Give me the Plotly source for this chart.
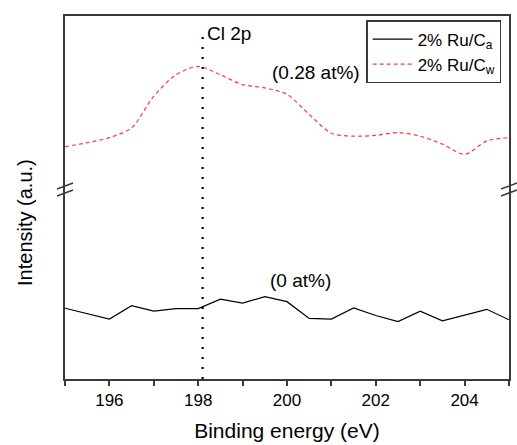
import plotly.graph_objects as go

# Binding energy (eV)
energy = [195.0, 195.5, 196.0, 196.5, 197.0, 197.5, 198.0, 198.5, 199.0, 199.5, 200.0,
          200.5, 201.0, 201.5, 202.0, 202.5, 203.0, 203.5, 204.0, 204.5, 205.0]
# Intensity (a.u.), offset for display
ru_ca = [19.5, 18.0, 16.5, 20.2, 18.7, 19.4, 19.4, 22.0, 20.9, 22.7, 21.3,
         16.7, 16.5, 19.6, 17.5, 15.8, 18.7, 16.0, 17.6, 19.2, 16.3]
ru_cw = [64.0, 65.1, 66.5, 69.2, 77.9, 83.8, 86.1, 83.8, 81.1, 80.2, 78.4,
         72.9, 67.7, 66.9, 67.1, 67.9, 66.9, 64.7, 61.9, 65.6, 66.5]
names = ["2% Ru/C<sub>a</sub>", "2% Ru/C<sub>w</sub>"]
cl2p_energy = 198.1
break_levels = [53.15, 51.23]
y_range = [0, 100]

FONT = "Liberation Sans, Arial, sans-serif"
AX = "#3a3a3a"

fig = go.Figure()
fig.add_trace(go.Scatter(x=energy, y=ru_ca, mode="lines", name=names[0],
                         line=dict(color="black", width=1.2)))
fig.add_trace(go.Scatter(x=energy, y=ru_cw, mode="lines", name=names[1],
                         line=dict(color="#ff3b3b", width=1.2, dash="4px,3px", shape="spline", smoothing=0.8)))

# Cl 2p dotted line
fig.add_shape(type="line", xref="x", yref="paper", x0=cl2p_energy, x1=cl2p_energy, y0=0, y1=0.96,
              line=dict(color="black", width=2.2, dash="2px,8px"), layer="above")

# axis break marks
for xp in [0, 1]:
    for yb in break_levels:
        fig.add_shape(type="line", xref="paper", xsizemode="pixel", xanchor=xp, x0=-8, x1=8,
                      yref="y", ysizemode="pixel", yanchor=yb, y0=-3, y1=3,
                      line=dict(color=AX, width=1.5))

fig.add_annotation(x=cl2p_energy, y=0.953, xref="x", yref="paper", text="Cl 2p", showarrow=False,
                   xanchor="left", yanchor="middle", xshift=2, font=dict(size=19, color="black", family=FONT))
fig.add_annotation(x=200.65, y=84.5, xref="x", yref="y", text="(0.28 at%)", showarrow=False,
                   font=dict(size=19, color="black", family=FONT))
fig.add_annotation(x=200.3, y=27.0, xref="x", yref="y", text="(0 at%)", showarrow=False,
                   font=dict(size=19, color="black", family=FONT))
fig.add_annotation(x=-0.09, y=0.43, xref="paper", yref="paper", text="Intensity (a.u.)", showarrow=False,
                   xanchor="center", yanchor="middle",
                   textangle=-90, font=dict(size=20, color="black", family=FONT))

fig.update_layout(
    width=517, height=445,
    margin=dict(l=65, r=6, t=16, b=64),
    paper_bgcolor="white", plot_bgcolor="white",
    font=dict(family=FONT, color="black"),
    showlegend=True,
    legend=dict(x=0.983, y=0.988, xanchor="right", yanchor="top",
                bordercolor=AX, borderwidth=1.2, bgcolor="white",
                font=dict(size=17, family=FONT), tracegroupgap=0,
                itemwidth=40),
    xaxis=dict(range=[195, 205], tickvals=[196, 198, 200, 202, 204], ticks="outside", ticklen=5,
               tickwidth=1.5, tickcolor=AX,
               minor=dict(dtick=1, tick0=195, ticks="outside", ticklen=5, tickwidth=1.5, tickcolor=AX),
               showline=True, linecolor=AX, linewidth=1.5, mirror=True, showgrid=False, zeroline=False,
               tickfont=dict(size=17, family=FONT, color="black"),
               title=dict(text="Binding energy (eV)", font=dict(size=21, family=FONT, color="black"), standoff=14)),
    yaxis=dict(range=y_range, showticklabels=False, ticks="", showline=True, linecolor=AX, linewidth=1.5,
               mirror=True, showgrid=False, zeroline=False),
)

fig.write_html("out.html")
